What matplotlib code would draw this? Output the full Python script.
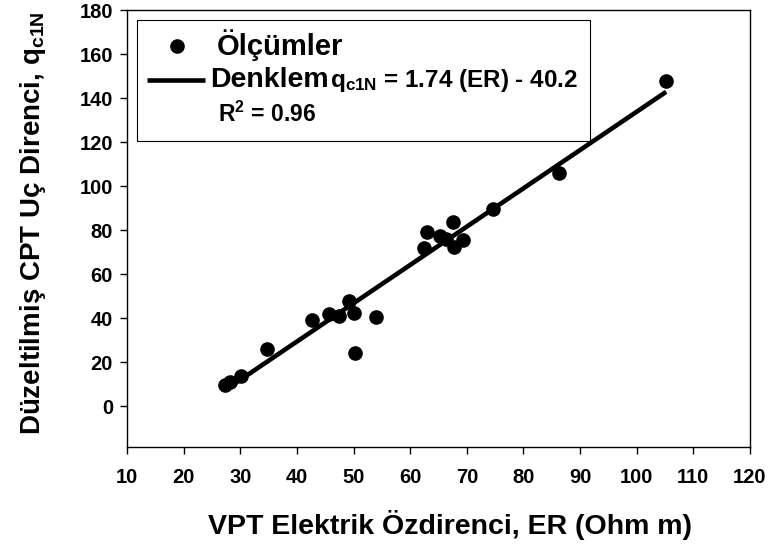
import matplotlib
matplotlib.use("Agg")
import matplotlib.pyplot as plt
from matplotlib.patches import Rectangle
import numpy as np

plt.rcParams['font.family'] = ['Liberation Sans', 'DejaVu Sans']
plt.rcParams['font.weight'] = 'bold'
plt.rcParams['mathtext.fontset'] = 'custom'
plt.rcParams['mathtext.rm'] = 'Liberation Sans:bold'
plt.rcParams['mathtext.bf'] = 'Liberation Sans:bold'
plt.rcParams['mathtext.it'] = 'Liberation Sans:bold'

# olcum noktalari (ER, qc1N)
er = [27.3, 28.2, 30.2, 34.7, 42.7, 45.7, 47.5, 49.2, 50.0, 50.3, 54.0,
      62.4, 63.0, 65.3, 66.4, 67.6, 67.7, 69.4, 74.7, 86.2, 105.2]
qc1n = [9.8, 11.2, 13.6, 25.9, 39.1, 42.1, 40.9, 47.7, 42.4, 24.0, 40.6,
        72.1, 79.2, 77.5, 76.2, 83.7, 72.4, 75.7, 89.4, 106.0, 147.9]

slope = 1.74
intercept = -40.2
r2 = 0.96

xticks = [10, 20, 30, 40, 50, 60, 70, 80, 90, 100, 110, 120]
yticks = [0, 20, 40, 60, 80, 100, 120, 140, 160, 180]

fig = plt.figure(figsize=(7.78, 5.47), dpi=100)
ax = fig.add_axes([127/778, 1-447/547, 623/778, 437/547])

xl = np.array([min(er), max(er)])
ax.plot(xl, slope*xl + intercept, color='black', lw=3.3, solid_capstyle='butt', zorder=2)
ax.plot(er, qc1n, 'o', color='black', ms=9.5, zorder=3)

ax.set_xlim(10, 120)
ax.set_ylim(-18.5, 180)
ax.tick_params(direction='out', length=5, width=1, labelsize=14.5)
ax.tick_params(axis='x', pad=10)
ax.tick_params(axis='y', pad=5)
ax.set_xticks(xticks)
ax.set_yticks(yticks)
for s in ax.spines.values():
    s.set_linewidth(1)


def fx(px):
    return (px - 127) / 623


def fy(py):
    return (447 - py) / 437


ax.set_xlabel('VPT Elektrik Özdirenci, ER (Ohm m)', fontsize=20.5, fontweight='bold', va='center')
ax.xaxis.set_label_coords(fx(450), fy(525))
ax.set_ylabel(r'Düzeltilmiş CPT Uç Direnci, q$_{\mathbf{c1N}}$', fontsize=20,
              fontweight='bold', va='center')
ax.yaxis.set_label_coords(fx(33), fy(223))

# legend box drawn by hand
ax.add_patch(Rectangle((fx(137), fy(141)), fx(590) - fx(137), fy(20) - fy(141),
                       transform=ax.transAxes, fill=False, lw=0.8, ec='black', zorder=4))
ax.plot([fx(177)], [fy(46)], 'o', color='black', ms=9.5, transform=ax.transAxes, zorder=5)
ax.plot([fx(147), fx(205)], [fy(80), fy(80)], color='black', lw=3.3,
        transform=ax.transAxes, solid_capstyle='butt', zorder=5)
ax.text(fx(217), fy(55), 'Ölçümler', transform=ax.transAxes, fontsize=21,
        fontweight='bold', va='baseline')
ax.text(fx(210), fy(87), 'Denklem', transform=ax.transAxes, fontsize=20.5,
        fontweight='bold', va='baseline')
ax.text(fx(330), fy(87), r'q$_{\mathbf{c1N}}$ = %.2f (ER) - %.1f' % (slope, -intercept),
        transform=ax.transAxes, fontsize=17.5, fontweight='bold', va='baseline')
ax.text(fx(218), fy(122), r'R$^{\mathbf{2}}$ = %.2f' % r2, transform=ax.transAxes,
        fontsize=16.5, fontweight='bold', va='baseline')

plt.savefig('out.png', dpi=100)
plt.close()
